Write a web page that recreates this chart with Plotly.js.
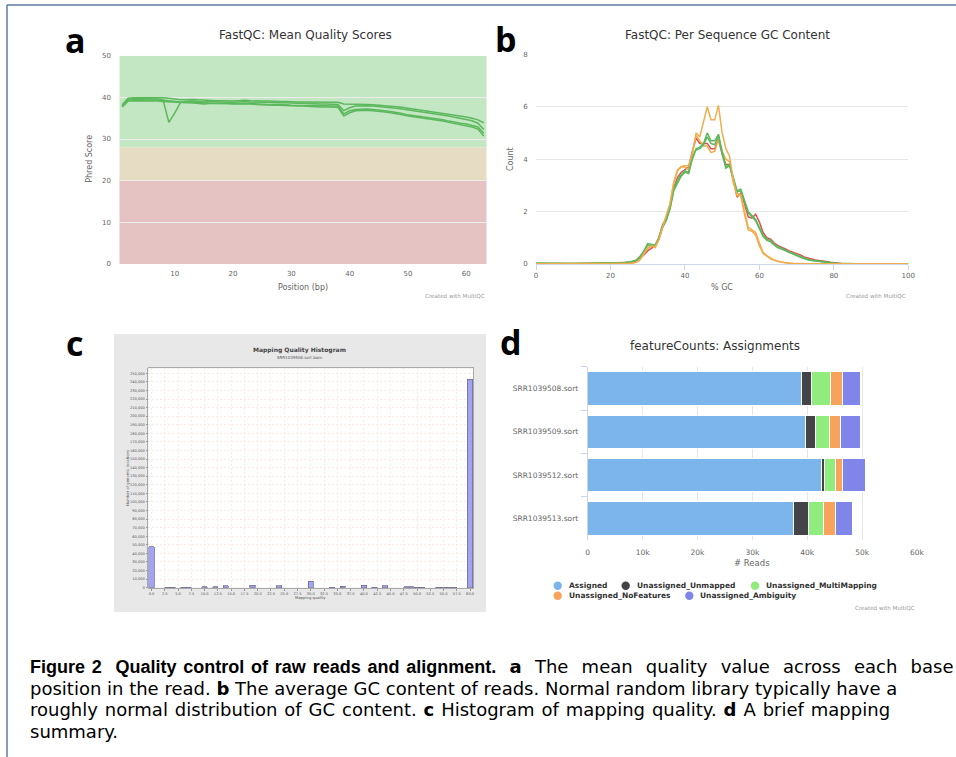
<!DOCTYPE html>
<html><head><meta charset="utf-8">
<script src="https://cdn.plot.ly/plotly-3.0.1.min.js"></script>
<style>html,body{margin:0;padding:0;background:#fff;}#chart{width:956px;height:757px;}</style>
</head><body><div id="chart"></div>
<script>
// ---------- Panel a: FastQC mean quality scores ----------
const qPos = [1,2,3,4,5,6,7,8,9,10,11,12,13,14,15,16,17,18,19,20,21,22,23,24,25,26,27,28,29,30,31,32,33,34,35,36,37,38,39,40,41,42,43,44,45,46,47,48,49,50,51,52,53,54,55,56,57,58,59,60,61,62,63];
const qualA = [38.2,39.8,39.9,39.9,39.9,39.9,40.0,39.9,39.8,39.6,39.4,39.4,39.5,39.4,39.3,39.3,39.2,39.2,39.1,39.1,39.2,39.3,39.2,39.1,39.1,39.1,39.0,39.0,39.0,38.9,38.9,38.9,38.9,38.9,38.9,38.9,38.8,38.8,38.4,38.4,38.4,38.3,38.3,38.2,38.1,38.0,37.9,37.8,37.6,37.4,37.2,37.0,36.8,36.6,36.3,36.1,35.9,35.7,35.5,35.3,35.0,34.6,33.9];
const qualB = [37.8,39.6,39.7,39.7,39.7,39.7,39.6,39.4,34.0,36.2,38.8,39.0,39.1,39.0,38.9,39.0,38.9,38.9,38.8,38.8,38.9,39.0,38.9,38.8,38.8,38.8,38.7,38.7,38.7,38.6,38.6,38.6,38.5,38.5,38.4,38.4,38.3,38.3,36.8,37.5,37.9,38.0,38.0,37.9,37.8,37.7,37.5,37.4,37.2,37.0,36.8,36.6,36.4,36.1,35.9,35.7,35.5,35.2,35.0,34.7,34.4,33.8,32.3];
const qualC = [38.0,39.3,39.4,39.4,39.4,39.4,39.4,39.3,39.2,39.0,38.9,38.8,38.7,38.5,38.4,38.5,38.5,38.5,38.4,38.4,38.5,38.6,38.5,38.4,38.3,38.3,38.3,38.3,38.2,38.1,38.1,38.1,38.1,38.0,38.0,38.0,37.9,37.9,36.0,36.8,37.1,37.2,37.2,37.1,37.0,36.8,36.6,36.4,36.1,35.8,35.6,35.5,35.3,35.0,34.8,34.6,34.3,34.0,33.8,33.6,33.3,32.9,31.4];
const qualD = [37.7,39.1,39.2,39.2,39.2,39.1,39.1,39.0,38.9,38.8,38.7,38.7,38.8,38.8,38.7,38.6,38.6,38.5,38.5,38.4,38.4,38.5,38.4,38.3,38.2,38.2,38.1,38.1,38.0,37.9,37.9,37.9,37.8,37.8,37.7,37.7,37.6,37.6,35.5,36.3,36.8,36.9,36.9,36.8,36.7,36.5,36.3,36.1,35.8,35.5,35.3,35.2,35.0,34.8,34.5,34.3,34.0,33.7,33.5,33.2,32.9,32.4,30.7];
const qualTicks = [10,20,30,40,50,60];

// ---------- Panel b: per sequence GC content ----------
const gcPct = [0,5,10,15,20,22,24,25,26,27,28,29,30,31,32,33,34,35,36,37,38,39,40,41,42,43,44,45,46,47,48,49,50,51,52,53,54,55,56,57,58,59,60,61,62,63,64,65,66,67,68,69,70,71,72,73,74,75,76,77,78,79,80,81,82,84,86,88,90,95,100];
const gcRed = [0.02,0.01,0.01,0.02,0.03,0.04,0.05,0.06,0.07,0.12,0.22,0.35,0.5,0.6,0.7,1.0,1.5,1.75,2.2,2.9,3.3,3.5,3.6,3.7,4.3,4.8,4.6,4.6,4.6,4.4,4.4,4.75,4.2,3.8,3.8,3.2,2.55,2.7,2.3,1.8,1.75,1.9,1.6,1.2,1.0,0.95,0.8,0.7,0.65,0.58,0.5,0.45,0.4,0.35,0.27,0.22,0.18,0.15,0.13,0.12,0.1,0.07,0.05,0.03,0.02,0.01,0.01,0.01,0.01,0.01,0.01];
const gcOrangeLow = [0.01,0.01,0.01,0.01,0.02,0.02,0.03,0.03,0.04,0.07,0.17,0.38,0.6,0.68,0.62,0.92,1.4,1.8,2.3,3.1,3.6,3.7,3.7,3.6,4.2,4.9,4.7,4.5,4.5,4.25,4.3,4.75,4.3,4.0,3.9,3.1,2.7,2.6,1.9,1.3,1.25,1.1,0.7,0.4,0.3,0.2,0.14,0.1,0.07,0.05,0.03,0.02,0.02,0.01,0.01,0.01,0.01,0.01,0.01,0.01,0.01,0.01,0.01,0.01,0.01,0.01,0.01,0.01,0.01,0.01,0.01];
const gcGreenA = [0.03,0.02,0.02,0.03,0.04,0.05,0.06,0.08,0.1,0.15,0.3,0.5,0.78,0.75,0.72,1.0,1.45,1.7,2.1,2.8,3.1,3.35,3.5,3.45,4.0,4.4,4.45,4.6,5.0,4.7,4.7,4.95,4.3,3.7,3.8,3.3,2.8,2.85,2.4,2.0,1.85,1.7,1.4,1.1,0.95,0.9,0.75,0.65,0.6,0.52,0.45,0.4,0.34,0.28,0.22,0.17,0.14,0.12,0.1,0.08,0.06,0.05,0.04,0.03,0.02,0.02,0.01,0.01,0.01,0.01,0.01];
const gcGreenB = [0.03,0.02,0.02,0.03,0.04,0.05,0.06,0.08,0.1,0.14,0.28,0.48,0.72,0.7,0.7,0.95,1.4,1.65,2.15,2.85,3.2,3.4,3.55,3.5,4.1,4.35,4.4,4.55,4.85,4.6,4.55,4.9,4.2,3.65,3.75,3.25,2.75,2.8,2.35,1.95,1.8,1.65,1.35,1.05,0.9,0.85,0.72,0.62,0.57,0.5,0.43,0.38,0.32,0.26,0.2,0.16,0.13,0.11,0.09,0.07,0.05,0.04,0.03,0.02,0.02,0.01,0.01,0.01,0.01,0.01,0.01];
const gcOrangeHigh = [0.01,0.01,0.01,0.01,0.02,0.02,0.03,0.03,0.04,0.07,0.18,0.4,0.62,0.7,0.65,0.95,1.45,1.85,2.3,3.1,3.55,3.72,3.75,3.75,4.2,5.0,4.85,5.4,6.0,5.5,5.5,6.05,5.0,4.4,4.1,3.2,2.6,2.65,2.0,1.4,1.3,1.2,0.8,0.45,0.32,0.22,0.15,0.1,0.07,0.05,0.03,0.02,0.02,0.01,0.01,0.01,0.01,0.01,0.01,0.01,0.01,0.01,0.01,0.01,0.01,0.01,0.01,0.01,0.01,0.01,0.01];

// ---------- Panel c: mapping quality histogram ----------
const mqBins = [0,3,4,6,7,10,12,14,19,24,30,34,36,40,42,44,48,49,50,51,54,55,56,57,60];
const mqCounts = [48000,500,400,300,300,1000,900,2000,3000,2000,7500,600,1600,2800,700,2000,1300,1300,800,800,700,700,700,700,243000];

// ---------- Panel d: featureCounts assignments ----------
const samples = ['SRR1039508.sort','SRR1039509.sort','SRR1039512.sort','SRR1039513.sort'];
const assigned = [38960,39620,42540,37440];
const unmapped = [1900,1820,660,2850];
const multiMapping = [3340,2670,2010,2730];
const noFeatures = [2240,1890,1270,2190];
const ambiguity = [3280,3640,4070,2970];
const fcNames = ['Assigned','Unassigned_Unmapped','Unassigned_MultiMapping','Unassigned_NoFeatures','Unassigned_Ambiguity'];
const fcColors = ['#7cb5ec','#434348','#90ed7d','#f7a35c','#8085e9'];
const fcTickVals = [0,10000,20000,30000,40000,50000,60000];
const fcTickText = ['0','10k','20k','30k','40k','50k','60k'];

const captionLines = [
  '<span style="font-family:\'Liberation Sans\';word-spacing:1.8px"><b>Figure 2  Quality control of raw reads and alignment.</b></span><span style="word-spacing:7.5px"> <b>a</b> The mean quality value across each base</span>',
  'position in the read. <b>b</b> The average GC content of reads. Normal random library typically have a',
  '<span style="word-spacing:1.2px">roughly normal distribution of GC content. <b>c</b> Histogram of mapping quality. <b>d</b> A brief mapping</span>',
  'summary.'
];

// ---------- helpers ----------
const W = 956, H = 757;
const px = x => x / W, py = y => 1 - y / H;
const FONT = 'DejaVu Sans';
function ann(text, x, y, size, color, extra) {
  return Object.assign({text: text, x: px(x), y: py(y), xref: 'paper', yref: 'paper', showarrow: false,
    xanchor: 'center', yanchor: 'middle', font: {family: FONT, size: size, color: color}}, extra || {});
}

const traces = [];
const greenQ = '#5cb85c';
[qualA, qualB, qualC, qualD].forEach(v => traces.push({x: qPos, y: v, type: 'scatter', mode: 'lines',
  line: {color: greenQ, width: 1.5}, xaxis: 'x', yaxis: 'y', hoverinfo: 'skip', showlegend: false}));

const gcSeries = [[gcRed,'#d9534f'],[gcOrangeLow,'#f0ad4e'],[gcGreenB,'#5cb85c'],[gcGreenA,'#5cb85c'],[gcOrangeHigh,'#f0ad4e']];
gcSeries.forEach(s => traces.push({x: gcPct, y: s[0], type: 'scatter', mode: 'lines',
  line: {color: s[1], width: 1.5}, xaxis: 'x2', yaxis: 'y2', hoverinfo: 'skip', showlegend: false}));

traces.push({x: mqBins, y: mqCounts, type: 'bar', width: 1, xaxis: 'x3', yaxis: 'y3',
  marker: {color: '#a3a3f5', line: {color: '#666680', width: 0.7}}, hoverinfo: 'skip', showlegend: false});

[assigned, unmapped, multiMapping, noFeatures, ambiguity].forEach((v, i) => traces.push({
  y: samples, x: v, type: 'bar', orientation: 'h', name: fcNames[i], xaxis: 'x4', yaxis: 'y4',
  marker: {color: fcColors[i], line: {color: '#ffffff', width: 1}}, hoverinfo: 'skip', showlegend: false}));

const tickGray = '#666666';
const qRange = [0.5, 63.5];
const mqXRange = [-0.6, 60.6], mqYRange = [0, 255800];

const shapes = [
  {type: 'rect', xref: 'x', yref: 'y', x0: qRange[0], x1: qRange[1], y0: 28, y1: 50, fillcolor: '#c3e6c3', line: {width: 0}, layer: 'below'},
  {type: 'rect', xref: 'x', yref: 'y', x0: qRange[0], x1: qRange[1], y0: 20, y1: 28, fillcolor: '#e6dcc3', line: {width: 0}, layer: 'below'},
  {type: 'rect', xref: 'x', yref: 'y', x0: qRange[0], x1: qRange[1], y0: 0, y1: 20, fillcolor: '#e6c3c3', line: {width: 0}, layer: 'below'},
  {type: 'rect', xref: 'paper', yref: 'paper', x0: px(114), x1: px(486), y0: py(612), y1: py(334), fillcolor: '#e8e8e8', line: {width: 0}, layer: 'below'},
  {type: 'rect', xref: 'x3', yref: 'y3', x0: mqXRange[0], x1: mqXRange[1], y0: mqYRange[0], y1: mqYRange[1], fillcolor: '#ffffff', line: {width: 0}, layer: 'below'},
  {type: 'line', xref: 'paper', yref: 'paper', x0: px(7), x1: px(956), y0: py(5), y1: py(5), line: {color: '#5f7ba3', width: 1.5}},
  {type: 'line', xref: 'paper', yref: 'paper', x0: px(7), x1: px(7), y0: py(5), y1: py(757), line: {color: '#5f7ba3', width: 1.5}}
];

const legendItems = [[557.7, 585.7, 566.7], [625.7, 585.7, 635], [755, 585.7, 764], [557.7, 595.7, 566.7], [689.3, 595.7, 698.3]];
const annotations = [];
legendItems.forEach((p, i) => {
  const r = 4.2;
  shapes.push({type: 'circle', xref: 'paper', yref: 'paper', x0: px(p[0]-r), x1: px(p[0]+r), y0: py(p[1]+r), y1: py(p[1]-r),
    fillcolor: fcColors[i], line: {width: 0}});
  annotations.push(ann('<b>' + fcNames[i] + '</b>', p[2], p[1], 7.5, '#333333', {xanchor: 'left'}));
});

const letterFont = {family: 'Open Sans', size: 34, color: '#000'};
annotations.push(
  ann('FastQC: Mean Quality Scores', 305, 35, 12, '#333333'),
  ann('Position (bp)', 302.7, 287, 8, tickGray),
  ann('Phred Score', 89.5, 159.3, 8, tickGray, {textangle: -90}),
  ann('Created with MultiQC', 487, 296, 5.6, '#999999', {xanchor: 'right'}),
  ann('FastQC: Per Sequence GC Content', 727, 35, 12, '#333333'),
  ann('% GC', 722, 287, 8, tickGray),
  ann('Count', 510.7, 159.3, 8, tickGray, {textangle: -90}),
  ann('Created with MultiQC', 908.3, 296, 5.6, '#999999', {xanchor: 'right'}),
  ann('<b>Mapping Quality Histogram</b>', 299, 349.7, 6, '#444444'),
  ann('SRR1039508.sort.bam', 299, 357.3, 4, '#555555'),
  ann('Number of genomic locations', 127, 478, 3.8, '#555555', {textangle: -90}),
  ann('Mapping quality', 310.8, 597.7, 3.8, '#555555'),
  ann('featureCounts: Assignments', 715, 346, 12, '#333333'),
  ann('# Reads', 752, 563.3, 8.5, tickGray),
  ann('Created with MultiQC', 916.7, 608, 5.6, '#999999', {xanchor: 'right'}),
  ann('<b>a</b>', 75.3, 40, 34, '#000', {font: letterFont}),
  ann('<b>b</b>', 506, 39, 34, '#000', {font: letterFont}),
  ann('<b>c</b>', 74, 343, 34, '#000', {font: letterFont}),
  ann('<b>d</b>', 511, 342, 34, '#000', {font: letterFont})
);
const capY = [666, 688, 709.5, 731];
captionLines.forEach((t, i) => annotations.push(ann(t, 28, capY[i], 18, '#000000',
  {xanchor: 'left', font: {family: 'DejaVu Sans', size: 18, color: '#000'}})));

const small = {family: FONT, size: 7, color: tickGray};
const tiny = {family: FONT, size: 3.6, color: '#555555'};
const layout = {
  width: W, height: H, margin: {l: 0, r: 0, t: 0, b: 0},
  paper_bgcolor: '#ffffff', plot_bgcolor: 'rgba(0,0,0,0)',
  font: {family: FONT}, showlegend: false, hovermode: false,
  barmode: 'stack', bargap: 0.23,
  xaxis: {domain: [px(119.3), px(486.7)], anchor: 'y', range: qRange, tickvals: qualTicks, showgrid: false,
    zeroline: false, showline: false, ticks: 'outside', ticklen: 3, tickcolor: 'rgba(0,0,0,0)', tickfont: small},
  yaxis: {domain: [py(264), py(55.7)], anchor: 'x', range: [0, 50], dtick: 10, gridcolor: '#ececec', gridwidth: 1,
    zeroline: false, showline: false, ticks: 'outside', ticklen: 6, tickcolor: 'rgba(0,0,0,0)', tickfont: small},
  xaxis2: {domain: [px(536), px(908.3)], anchor: 'y2', range: [0, 100], dtick: 20, showgrid: false, zeroline: false,
    showline: true, linecolor: '#ccd6eb', linewidth: 1, ticks: 'outside', ticklen: 5, tickcolor: '#ccd6eb', tickfont: small},
  yaxis2: {domain: [py(264), py(54.3)], anchor: 'x2', range: [0, 8], dtick: 2, gridcolor: '#e6e6e6', zeroline: false,
    showline: false, ticks: 'outside', ticklen: 6, tickcolor: 'rgba(0,0,0,0)', tickfont: small},
  xaxis3: {domain: [px(148.3), px(473.3)], anchor: 'y3', range: mqXRange, tick0: 0, dtick: 2.5, tickformat: '.1f',
    showgrid: true, gridcolor: '#f7dcc8', griddash: '2px,2px', gridwidth: 0.5, zeroline: false,
    showline: true, mirror: true, linecolor: '#999999', linewidth: 0.8, ticks: 'outside', ticklen: 2, tickcolor: '#999999', tickfont: tiny},
  yaxis3: {domain: [py(587.7), py(368.3)], anchor: 'x3', range: mqYRange, tick0: 0, dtick: 10000, tickformat: ',',
    showgrid: true, gridcolor: '#f7dcc8', griddash: '2px,2px', gridwidth: 0.5, zeroline: false,
    showline: true, mirror: true, linecolor: '#999999', linewidth: 0.8, ticks: 'outside', ticklen: 2, tickcolor: '#999999', tickfont: tiny},
  xaxis4: {domain: [px(587.7), px(917)], anchor: 'y4', range: [0, 60000], tickvals: fcTickVals, ticktext: fcTickText,
    showgrid: true, gridcolor: '#e6e6e6', zeroline: false, showline: false, ticks: 'outside', ticklen: 5,
    tickcolor: 'rgba(0,0,0,0)', tickfont: {family: FONT, size: 7.5, color: tickGray}},
  yaxis4: {domain: [py(540), py(366.7)], anchor: 'x4', type: 'category', categoryarray: samples, range: [3.5, -0.5],
    showgrid: false, zeroline: false, showline: true, linecolor: '#ccd6eb', linewidth: 1, ticks: 'outside', ticklen: 6,
    tickcolor: '#ccd6eb', tickson: 'boundaries', ticklabelstandoff: 7, tickfont: {family: FONT, size: 7.5, color: tickGray}},
  shapes: shapes, annotations: annotations
};
Plotly.newPlot('chart', traces, layout, {staticPlot: true, displayModeBar: false});
</script></body></html>
